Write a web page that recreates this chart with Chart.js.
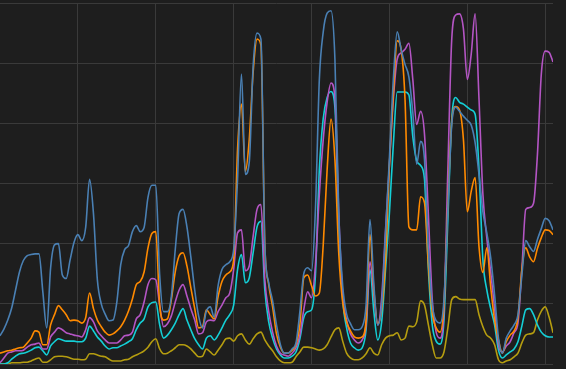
<!DOCTYPE html>
<html><head><meta charset="utf-8">
<script src="https://cdn.jsdelivr.net/npm/chart.js@4"></script>
<style>html,body{margin:0;padding:0;background:#1e1e1e;overflow:hidden}canvas{display:block}</style>
</head><body>
<canvas id="c" width="566" height="369"></canvas>
<script>
const xTicks = [20, 40, 60, 80, 100, 120, 140];
const yTicks = [0, 10, 20, 30, 40, 50, 60];

const seriesBlue = [
4.7,5.8,7.3,9.3,12.3,15.3,17.2,18.0,18.2,18.3,
18.3,12.0,6.0,16.0,19.8,20.0,14.8,14.2,17.3,20.2,
21.5,20.5,22.7,30.7,25.0,14.0,10.0,8.3,7.2,7.3,
10.3,16.5,19.0,19.7,22.0,23.0,22.0,22.7,27.7,29.7,
29.7,14.8,8.7,8.7,11.2,19.0,25.0,25.7,22.8,17.8,
12.3,8.0,6.0,8.8,9.5,7.8,13.0,15.7,16.5,17.0,
19.0,30.7,48.2,31.5,33.5,49.5,55.0,54.0,19.8,13.5,
10.5,6.5,3.2,1.8,1.8,2.5,3.5,8.7,15.0,16.0,
15.5,25.7,47.3,55.2,58.3,58.7,50.7,24.8,13.0,8.3,
6.7,5.7,5.7,6.2,9.8,24.0,13.2,6.5,9.7,21.8,
34.3,47.3,55.2,52.3,49.8,47.7,41.8,33.2,37.0,34.0,
19.0,9.8,7.2,6.8,10.7,25.7,39.8,42.7,42.0,41.2,
40.5,39.7,36.8,31.5,25.3,21.8,17.7,11.5,4.3,1.8,
4.3,5.5,6.5,8.2,14.7,20.5,19.5,18.7,20.7,22.5,
24.2,23.8,22.3];

const seriesOrange = [
1.8,2.0,2.2,2.3,2.5,2.7,2.8,3.5,4.3,5.5,
5.3,3.2,3.2,6.5,8.2,9.7,9.0,8.2,7.2,7.3,
7.2,6.8,7.7,11.8,9.2,7.3,6.2,5.3,4.8,5.0,
5.5,6.2,7.3,8.8,10.8,13.2,13.7,15.3,19.3,21.7,
22.0,9.8,7.3,7.5,10.7,15.3,18.0,18.5,16.3,12.7,
9.2,6.0,6.2,9.0,8.2,7.5,11.2,13.7,14.8,15.3,
17.3,35.7,43.2,32.0,37.3,48.5,54.0,53.0,19.8,13.2,
9.5,5.0,2.8,1.8,1.8,2.3,3.2,6.5,14.3,14.8,
13.0,11.3,11.8,19.8,32.3,40.7,34.0,18.2,10.2,7.0,
5.5,4.5,4.3,4.5,7.3,21.5,12.3,6.7,9.0,17.3,
33.2,44.8,53.7,52.3,44.0,22.8,22.3,22.3,27.8,26.8,
16.5,8.5,6.0,5.3,9.8,26.5,40.3,42.8,42.2,37.3,
25.3,28.7,31.0,19.5,15.2,19.3,12.8,7.3,4.0,1.8,
3.7,4.8,5.5,7.7,15.7,19.3,17.8,17.0,19.2,21.0,
22.3,22.2,21.5];

const seriesPurple = [
0.2,1.0,1.8,2.0,2.2,2.2,2.3,2.8,3.2,3.3,
3.5,2.5,2.5,4.5,5.3,6.0,5.7,5.2,5.0,4.8,
4.7,4.5,5.7,7.7,7.0,5.5,4.7,4.0,3.5,3.5,
3.5,4.0,4.7,4.8,5.3,7.5,8.2,10.3,13.2,14.2,
14.0,9.8,6.2,6.7,8.0,10.3,12.3,13.2,11.3,9.2,
7.3,5.0,5.2,7.0,7.3,7.2,8.7,9.8,11.0,11.8,
15.7,21.8,22.3,15.5,16.3,21.2,25.7,26.5,14.0,8.7,
5.3,3.0,1.8,1.5,1.3,1.8,2.7,4.8,9.0,12.0,
11.0,16.5,28.2,37.3,43.5,46.7,44.3,24.8,11.5,7.3,
5.0,4.0,3.5,4.0,6.5,17.0,11.5,6.5,11.0,22.3,
33.2,44.0,50.7,51.7,52.3,53.3,47.3,39.8,42.0,38.2,
24.8,10.7,5.3,4.3,9.0,32.3,54.0,58.0,58.2,55.7,
47.3,51.5,58.2,44.0,28.2,21.0,15.3,9.3,3.2,2.0,
3.0,3.7,5.2,6.8,15.7,25.7,26.0,26.7,34.8,48.2,
52.0,51.8,50.2];

const seriesCyan = [
0.0,0.0,0.2,0.8,1.3,1.7,1.8,2.0,2.3,2.7,
2.8,2.2,1.5,3.0,3.7,4.2,4.0,3.8,3.8,3.8,
3.7,3.7,4.3,6.3,5.5,4.5,3.8,3.0,2.5,2.7,
2.7,3.0,3.3,3.7,4.2,5.7,6.8,7.5,9.5,10.2,
10.3,6.5,4.3,4.8,5.7,6.8,8.2,9.2,7.3,5.7,
4.2,3.2,2.5,4.3,4.7,4.0,4.8,6.0,7.3,8.2,
9.8,15.7,18.2,13.5,14.3,18.5,22.8,23.7,12.3,7.0,
4.3,2.5,1.5,1.0,1.0,1.3,2.0,4.2,7.7,8.7,
9.0,14.8,32.3,40.8,44.3,45.3,42.7,23.2,10.7,6.0,
3.5,2.7,2.3,2.7,5.7,15.7,8.7,4.0,7.0,15.7,
25.2,36.5,45.2,45.2,45.2,44.7,37.8,33.8,33.0,30.7,
15.7,6.5,3.8,3.3,7.3,24.0,40.7,44.3,43.5,43.2,
42.7,42.2,41.5,32.3,17.3,12.3,9.2,6.5,2.3,1.0,
1.5,2.0,2.5,3.7,6.3,9.0,9.2,8.2,6.5,5.3,
4.7,4.5,4.5];

const seriesYellow = [
0.0,0.0,0.0,0.2,0.2,0.2,0.3,0.3,0.5,0.8,
1.0,0.3,0.3,0.7,1.2,1.3,1.3,1.2,1.0,0.8,
0.8,0.7,0.8,1.7,1.7,1.5,1.3,1.2,0.8,0.5,
0.5,0.5,0.7,0.8,1.2,1.5,1.8,2.2,2.8,3.7,
4.2,2.5,1.7,1.8,2.2,2.7,3.2,3.2,3.0,2.5,
1.8,1.2,1.3,2.5,2.0,1.5,2.3,3.2,4.2,4.3,
3.8,4.7,5.0,4.0,3.3,4.2,5.0,5.3,4.0,3.0,
2.2,1.2,0.5,0.2,0.2,0.3,1.2,2.0,2.8,2.8,
2.7,2.5,2.3,2.5,3.2,4.5,5.7,6.0,3.8,1.8,
1.0,0.7,0.7,1.0,1.7,2.7,1.8,1.5,3.2,4.3,
4.7,4.8,5.2,4.0,4.3,6.3,6.2,7.0,10.5,9.8,
6.5,3.2,1.0,1.0,2.0,6.0,10.7,11.2,10.8,10.7,
10.7,10.7,10.7,8.2,6.2,4.8,4.3,3.2,0.7,0.2,
0.5,0.7,1.2,1.8,3.5,4.8,5.0,5.2,7.3,8.8,
9.5,7.8,5.2];

const seriesList = [
  {name: 'A', values: seriesBlue,   color: '#4a80b4'},
  {name: 'B', values: seriesOrange, color: '#ff8a00'},
  {name: 'C', values: seriesPurple, color: '#b455c4'},
  {name: 'D', values: seriesCyan,   color: '#14cfd6'},
  {name: 'E', values: seriesYellow, color: '#b59d10'}
];

const nPts = seriesBlue.length;
const gridColor = '#3a3a3a';

new Chart(document.getElementById('c'), {
  type: 'line',
  data: {
    datasets: seriesList.map(s => ({
      label: s.name,
      data: s.values.map((v, i) => ({x: i, y: v})),
      borderColor: s.color,
      borderWidth: 1.6,
      pointRadius: 0,
      fill: false,
      cubicInterpolationMode: 'monotone'
    }))
  },
  options: {
    responsive: false,
    animation: false,
    events: [],
    layout: {padding: {left: 0, right: 13, top: 3, bottom: 5}},
    plugins: {legend: {display: false}, tooltip: {enabled: false}},
    scales: {
      x: {
        type: 'linear', min: 0, max: nPts - 1,
        afterBuildTicks: sc => { sc.ticks = xTicks.map(v => ({value: v})); },
        ticks: {display: false},
        grid: {color: gridColor, lineWidth: 1, drawTicks: false},
        border: {display: false}
      },
      y: {
        min: 0, max: 60,
        afterBuildTicks: sc => { sc.ticks = yTicks.map(v => ({value: v})); },
        ticks: {display: false},
        grid: {color: gridColor, lineWidth: 1, drawTicks: false},
        border: {display: false}
      }
    }
  }
});
</script>
</body></html>
